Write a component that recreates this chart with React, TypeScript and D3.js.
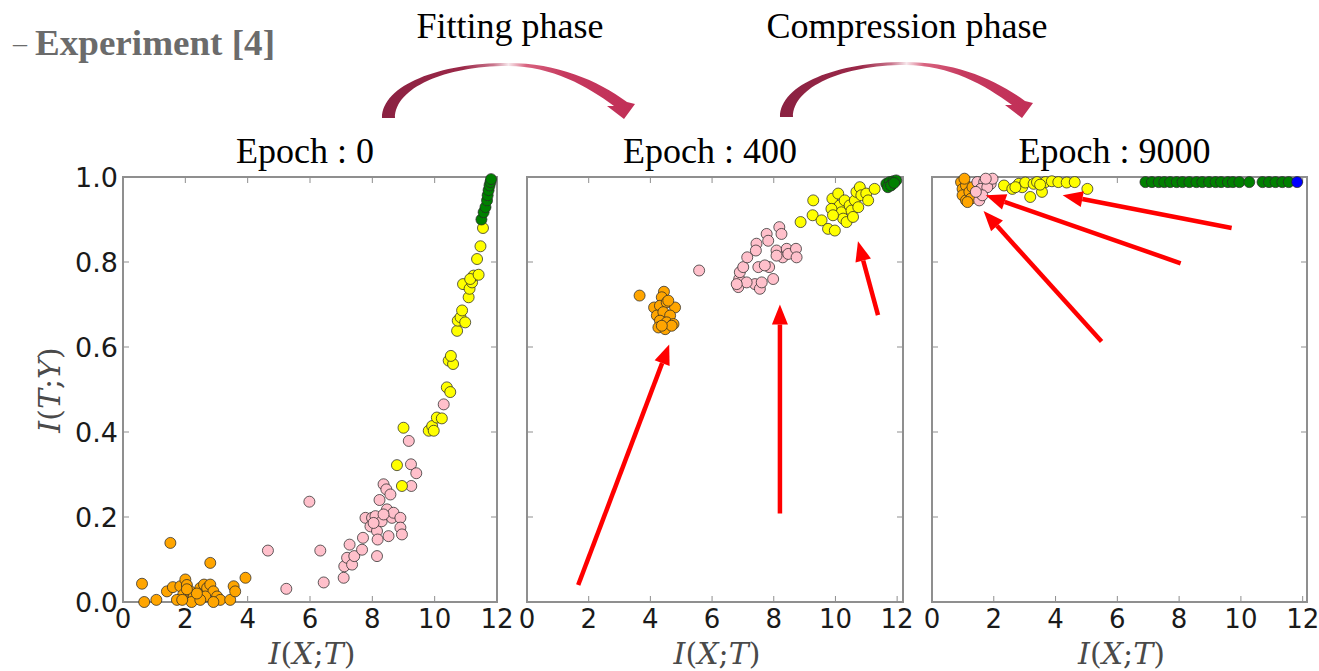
import * as d3 from 'd3'

type Pt = [number, number]

const epochTitles = ['Epoch : 0', 'Epoch : 400', 'Epoch : 9000']
const phaseLabels = ['Fitting phase', 'Compression phase']
const xTicks = [0, 2, 4, 6, 8, 10, 12]
const yTicks = [0, 0.2, 0.4, 0.6, 0.8, 1.0]

// epoch 0
const e0Orange: Pt[] = [
  [0.61, 0.043], [0.68, 0.0], [1.07, 0.005], [1.52, 0.139], [1.41, 0.025], [1.6, 0.035],
  [1.84, 0.037], [2.0, 0.053], [2.05, 0.04], [1.93, 0.017], [2.16, 0.025], [2.27, 0.013],
  [2.2, 0.0], [2.48, 0.033], [2.6, 0.041], [2.7, 0.033], [2.8, 0.041], [2.9, 0.025],
  [2.64, 0.013], [2.8, 0.092], [3.02, 0.013], [3.12, 0.005], [2.48, 0.005], [2.9, 0.0],
  [3.44, 0.005], [3.55, 0.037], [3.6, 0.025], [3.93, 0.057], [1.73, 0.005], [2.37, 0.02],
  [2.05, 0.03], [1.9, 0.005],
]
const e0Pink: Pt[] = [
  [4.65, 0.121], [5.24, 0.031], [5.98, 0.236], [6.33, 0.121], [6.44, 0.046], [7.08, 0.057],
  [7.1, 0.084], [7.19, 0.104], [7.27, 0.135], [7.35, 0.088], [7.42, 0.108], [7.67, 0.123],
  [7.7, 0.151], [7.78, 0.198], [7.94, 0.178], [7.99, 0.198], [8.1, 0.202], [8.15, 0.167],
  [8.15, 0.108], [8.17, 0.147], [8.23, 0.24], [8.3, 0.19], [8.36, 0.277], [8.45, 0.265],
  [8.47, 0.218], [8.52, 0.155], [8.58, 0.253], [8.63, 0.198], [8.68, 0.21], [8.9, 0.198],
  [8.9, 0.175], [8.95, 0.159], [9.17, 0.379], [9.24, 0.324], [9.41, 0.303], [9.25, 0.273],
  [10.29, 0.465], [8.04, 0.186], [8.36, 0.206],
]
const e0Yellow: Pt[] = [
  [8.79, 0.322], [9.0, 0.41], [8.95, 0.273], [9.81, 0.403], [9.92, 0.414], [9.97, 0.403],
  [10.07, 0.434], [10.23, 0.432], [10.39, 0.505], [10.5, 0.494], [10.45, 0.568], [10.59, 0.56],
  [10.52, 0.579], [10.72, 0.638], [10.74, 0.662], [10.83, 0.67], [10.88, 0.686], [10.98, 0.658],
  [10.91, 0.748], [11.09, 0.717], [11.12, 0.737], [11.2, 0.752], [11.25, 0.768], [11.14, 0.76],
  [11.41, 0.77], [11.36, 0.807], [11.47, 0.837], [11.55, 0.88],
]
const e0Green: Pt[] = [
  [11.5, 0.9], [11.57, 0.917], [11.63, 0.929], [11.68, 0.945], [11.7, 0.957], [11.73, 0.969],
  [11.76, 0.98], [11.79, 0.988], [11.81, 0.995],
]

// epoch 400
const e400Orange: Pt[] = [
  [3.65, 0.721], [4.44, 0.73], [4.37, 0.717], [4.12, 0.693], [4.31, 0.697], [4.53, 0.705],
  [4.8, 0.693], [4.21, 0.674], [4.42, 0.682], [4.64, 0.674], [4.31, 0.662], [4.53, 0.658],
  [4.75, 0.654], [4.26, 0.646], [4.48, 0.642], [4.69, 0.65], [4.58, 0.709], [4.37, 0.65],
]
const e400Pink: Pt[] = [
  [5.58, 0.78], [6.85, 0.741], [6.88, 0.76], [6.9, 0.776], [7.01, 0.788], [7.14, 0.811],
  [7.44, 0.843], [7.42, 0.827], [7.5, 0.788], [7.39, 0.748], [7.55, 0.737], [7.61, 0.752],
  [7.77, 0.866], [7.82, 0.85], [7.85, 0.788], [7.98, 0.76], [8.09, 0.827], [8.18, 0.882],
  [8.25, 0.866], [8.29, 0.811], [8.42, 0.831], [8.47, 0.819], [8.72, 0.831], [8.74, 0.811],
  [8.09, 0.815], [7.71, 0.792], [7.12, 0.752], [6.8, 0.748],
]
const e400Yellow: Pt[] = [
  [8.87, 0.894], [9.28, 0.945], [9.26, 0.91], [9.55, 0.898], [9.76, 0.878], [9.9, 0.949],
  [9.98, 0.874], [10.09, 0.961], [10.14, 0.933], [10.19, 0.917], [10.25, 0.902], [10.3, 0.945],
  [10.36, 0.894], [10.46, 0.933], [10.52, 0.921], [10.57, 0.906], [10.63, 0.945], [10.68, 0.965],
  [10.74, 0.929], [10.79, 0.976], [10.84, 0.957], [11.0, 0.961], [11.06, 0.945], [11.27, 0.972],
  [9.87, 0.925], [9.92, 0.91],
]
const e400Green: Pt[] = [
  [11.65, 0.984], [11.76, 0.988], [11.87, 0.99], [11.97, 0.992], [11.7, 0.976], [11.8, 0.98],
  [11.9, 0.986],
]

// epoch 9000
const e9000Orange: Pt[] = [
  [0.94, 0.988], [0.99, 0.972], [1.1, 0.98], [0.99, 0.957], [1.1, 0.945], [1.21, 0.965],
  [1.26, 0.949], [1.05, 0.996], [1.31, 0.976], [1.15, 0.941],
]
const e9000Pink: Pt[] = [
  [1.47, 0.988], [1.69, 0.988], [1.9, 0.984], [1.58, 0.972], [1.79, 0.976], [1.53, 0.945],
  [1.63, 0.957], [1.42, 0.965], [1.96, 0.996], [1.74, 0.996],
]
const e9000Yellow: Pt[] = [
  [2.33, 0.98], [2.6, 0.972], [2.81, 0.984], [2.92, 0.976], [3.02, 0.987], [3.18, 0.953],
  [3.29, 0.984], [3.4, 0.988], [3.56, 0.965], [3.67, 0.988], [3.88, 0.99], [4.09, 0.988],
  [4.36, 0.987], [4.62, 0.988], [5.03, 0.972], [2.7, 0.976], [3.5, 0.982],
]
const e9000Green: Pt[] = [
  [6.91, 0.988], [7.12, 0.988], [7.34, 0.988], [7.52, 0.988], [7.71, 0.988], [7.92, 0.988],
  [8.11, 0.988], [8.33, 0.988], [8.56, 0.988], [8.75, 0.988], [8.97, 0.988], [9.18, 0.988],
  [9.36, 0.988], [9.58, 0.988], [9.74, 0.988], [9.95, 0.988], [10.27, 0.988], [10.7, 0.988],
  [10.91, 0.988], [11.12, 0.988], [11.34, 0.988], [11.55, 0.988],
]
const e9000Blue: Pt[] = [[11.82, 0.988]]

// red annotation arrows: [from, to]
const arrows400: [Pt, Pt][] = [
  [[1.66, 0.04], [4.61, 0.606]],
  [[8.2, 0.208], [8.2, 0.7]],
  [[11.38, 0.675], [10.73, 0.849]],
]
const arrows9000: [Pt, Pt][] = [
  [[9.7, 0.88], [4.23, 0.957]],
  [[8.05, 0.797], [1.74, 0.957]],
  [[5.49, 0.613], [1.67, 0.92]],
]

const colors: Record<string, string> = {
  orange: '#ffa500',
  pink: '#ffc0cb',
  yellow: '#ffff00',
  green: '#008000',
  blue: '#0000ff',
}

const panels = [
  {
    title: epochTitles[0], left: 123, right: 497, xMax: 12, yAxis: true,
    series: [['orange', e0Orange], ['pink', e0Pink], ['yellow', e0Yellow], ['green', e0Green]] as [string, Pt[]][],
    arrows: [] as [Pt, Pt][],
  },
  {
    title: epochTitles[1], left: 527, right: 903, xMax: 12.19, yAxis: false,
    series: [['orange', e400Orange], ['pink', e400Pink], ['yellow', e400Yellow], ['green', e400Green]] as [string, Pt[]][],
    arrows: arrows400,
  },
  {
    title: epochTitles[2], left: 932, right: 1307, xMax: 12.14, yAxis: false,
    series: [['green', e9000Green], ['blue', e9000Blue], ['orange', e9000Orange], ['pink', e9000Pink], ['yellow', e9000Yellow]] as [string, Pt[]][],
    arrows: arrows9000,
  },
]

const top = 177
const bottom = 602
const tickFont = '"DejaVu Sans", sans-serif'
const serif = '"Liberation Serif", "Times New Roman", serif'

function AxisLabel({ x, y, parts, rotate }: { x: number; y: number; parts: string[]; rotate?: boolean }) {
  return (
    <text
      x={x} y={y}
      textAnchor="middle"
      fontFamily='"DejaVu Serif", serif'
      fontSize={30}
      fill="#4a4a4a"
      transform={rotate ? `rotate(-90 ${x} ${y})` : undefined}
    >
      {parts.map((p, i) => (
        <tspan key={i} fontStyle={/[A-Z]/.test(p) ? 'italic' : 'normal'}>{p}</tspan>
      ))}
    </text>
  )
}

function RedArrow({ x1, y1, x2, y2 }: { x1: number; y1: number; x2: number; y2: number }) {
  const ang = Math.atan2(y2 - y1, x2 - x1)
  const headLen = 20
  const headW = 8
  const bx = x2 - headLen * Math.cos(ang)
  const by = y2 - headLen * Math.sin(ang)
  const nx = -Math.sin(ang)
  const ny = Math.cos(ang)
  const pts = [
    [x2, y2],
    [bx + nx * headW, by + ny * headW],
    [bx - nx * headW, by - ny * headW],
  ].map(p => p.join(',')).join(' ')
  return (
    <g>
      <line x1={x1} y1={y1} x2={bx} y2={by} stroke="#ff0000" strokeWidth={4.5} />
      <polygon points={pts} fill="#ff0000" />
    </g>
  )
}

// swoosh shape between two epoch titles, local to its left foot
const swooshPath =
  'M0,0 C0,-33 58,-55 125,-55 C175,-55 215,-38 245,-16 L253,-14 L242,1 L225,-12 L232,-12 ' +
  'C205,-32 170,-52 125,-52 C63,-52 13,-30 13,0 Z'

export default function App() {
  const y = d3.scaleLinear().domain([0, 1]).range([bottom, top])

  return (
    <svg
      width={1319}
      height={671}
      style={{ position: 'absolute', left: 0, top: 0, background: '#fff' }}
    >
      <defs>
        <linearGradient id="swoosh" x1="0" x2="1" y1="0" y2="0">
          <stop offset="0" stopColor="#8a2141" />
          <stop offset="0.32" stopColor="#9b2848" />
          <stop offset="0.44" stopColor="#c9758c" />
          <stop offset="0.5" stopColor="#f7e8ec" />
          <stop offset="0.57" stopColor="#d8637f" />
          <stop offset="0.72" stopColor="#c63a5f" />
          <stop offset="1" stopColor="#c12f57" />
        </linearGradient>
        <filter id="soft" x="-5%" y="-5%" width="110%" height="110%">
          <feGaussianBlur stdDeviation="0.6" />
        </filter>
      </defs>

      {/* header */}
      <text x={13} y={52} fontFamily={serif} fontSize={28} fill="#6b6b6b">–</text>
      <text x={35} y={55} fontFamily={serif} fontWeight="bold" fontSize={35} fill="#6b6b6b"
        textLength={240} lengthAdjust="spacingAndGlyphs">Experiment [4]</text>

      <text x={510} y={38} textAnchor="middle" fontFamily={serif} fontSize={36} fill="#000">{phaseLabels[0]}</text>
      <text x={907} y={38} textAnchor="middle" fontFamily={serif} fontSize={36} fill="#000">{phaseLabels[1]}</text>

      <path d={swooshPath} transform="translate(382,118)" fill="url(#swoosh)" />
      <path d={swooshPath} transform="translate(780,117)" fill="url(#swoosh)" />

      {panels.map((p, pi) => {
        const x = d3.scaleLinear().domain([0, p.xMax]).range([p.left, p.right])
        const cx = (p.left + p.right) / 2
        return (
          <g key={pi}>
            <text x={cx - 5} y={163} textAnchor="middle" fontFamily={serif} fontSize={36} fill="#000">{p.title}</text>

            <rect x={p.left} y={top} width={p.right - p.left} height={bottom - top}
              fill="#fff" stroke="#8f8f8f" strokeWidth={2} />

            {/* inward ticks on all sides */}
            {xTicks.map(t => (
              <g key={'xt' + t} stroke="#8f8f8f" strokeWidth={1}>
                <line x1={x(t)} x2={x(t)} y1={bottom} y2={bottom - 6} />
                <line x1={x(t)} x2={x(t)} y1={top} y2={top + 6} />
              </g>
            ))}
            {yTicks.map(t => (
              <g key={'yt' + t} stroke="#8f8f8f" strokeWidth={1}>
                <line x1={p.left} x2={p.left + 6} y1={y(t)} y2={y(t)} />
                <line x1={p.right} x2={p.right - 6} y1={y(t)} y2={y(t)} />
              </g>
            ))}

            <g filter="url(#soft)">
              {p.series.map(([c, pts]) =>
                pts.map((d, i) => (
                  <circle key={c + i} cx={x(d[0])} cy={y(d[1])} r={5.5}
                    fill={colors[c]} stroke="#2a2a2a" strokeOpacity={0.75} strokeWidth={1} />
                )),
              )}
            </g>

            {p.arrows.map((a, i) => (
              <RedArrow key={i} x1={x(a[0][0])} y1={y(a[0][1])} x2={x(a[1][0])} y2={y(a[1][1])} />
            ))}

            {xTicks.map(t => (
              <text key={'xl' + t} x={x(t)} y={628} textAnchor="middle"
                fontFamily={tickFont} fontSize={26} fill="#1a1a1a">{t}</text>
            ))}
            {p.yAxis && yTicks.map(t => (
              <text key={'yl' + t} x={118} y={y(t) + 10} textAnchor="end"
                fontFamily={tickFont} fontSize={27} fill="#1a1a1a">{t.toFixed(1)}</text>
            ))}

            <AxisLabel x={cx + 2} y={664} parts={['I', '(', 'X', ';', 'T', ')']} />
          </g>
        )
      })}

      <AxisLabel x={60} y={390} parts={['I', '(', 'T', ';', 'Y', ')']} rotate />
    </svg>
  )
}
